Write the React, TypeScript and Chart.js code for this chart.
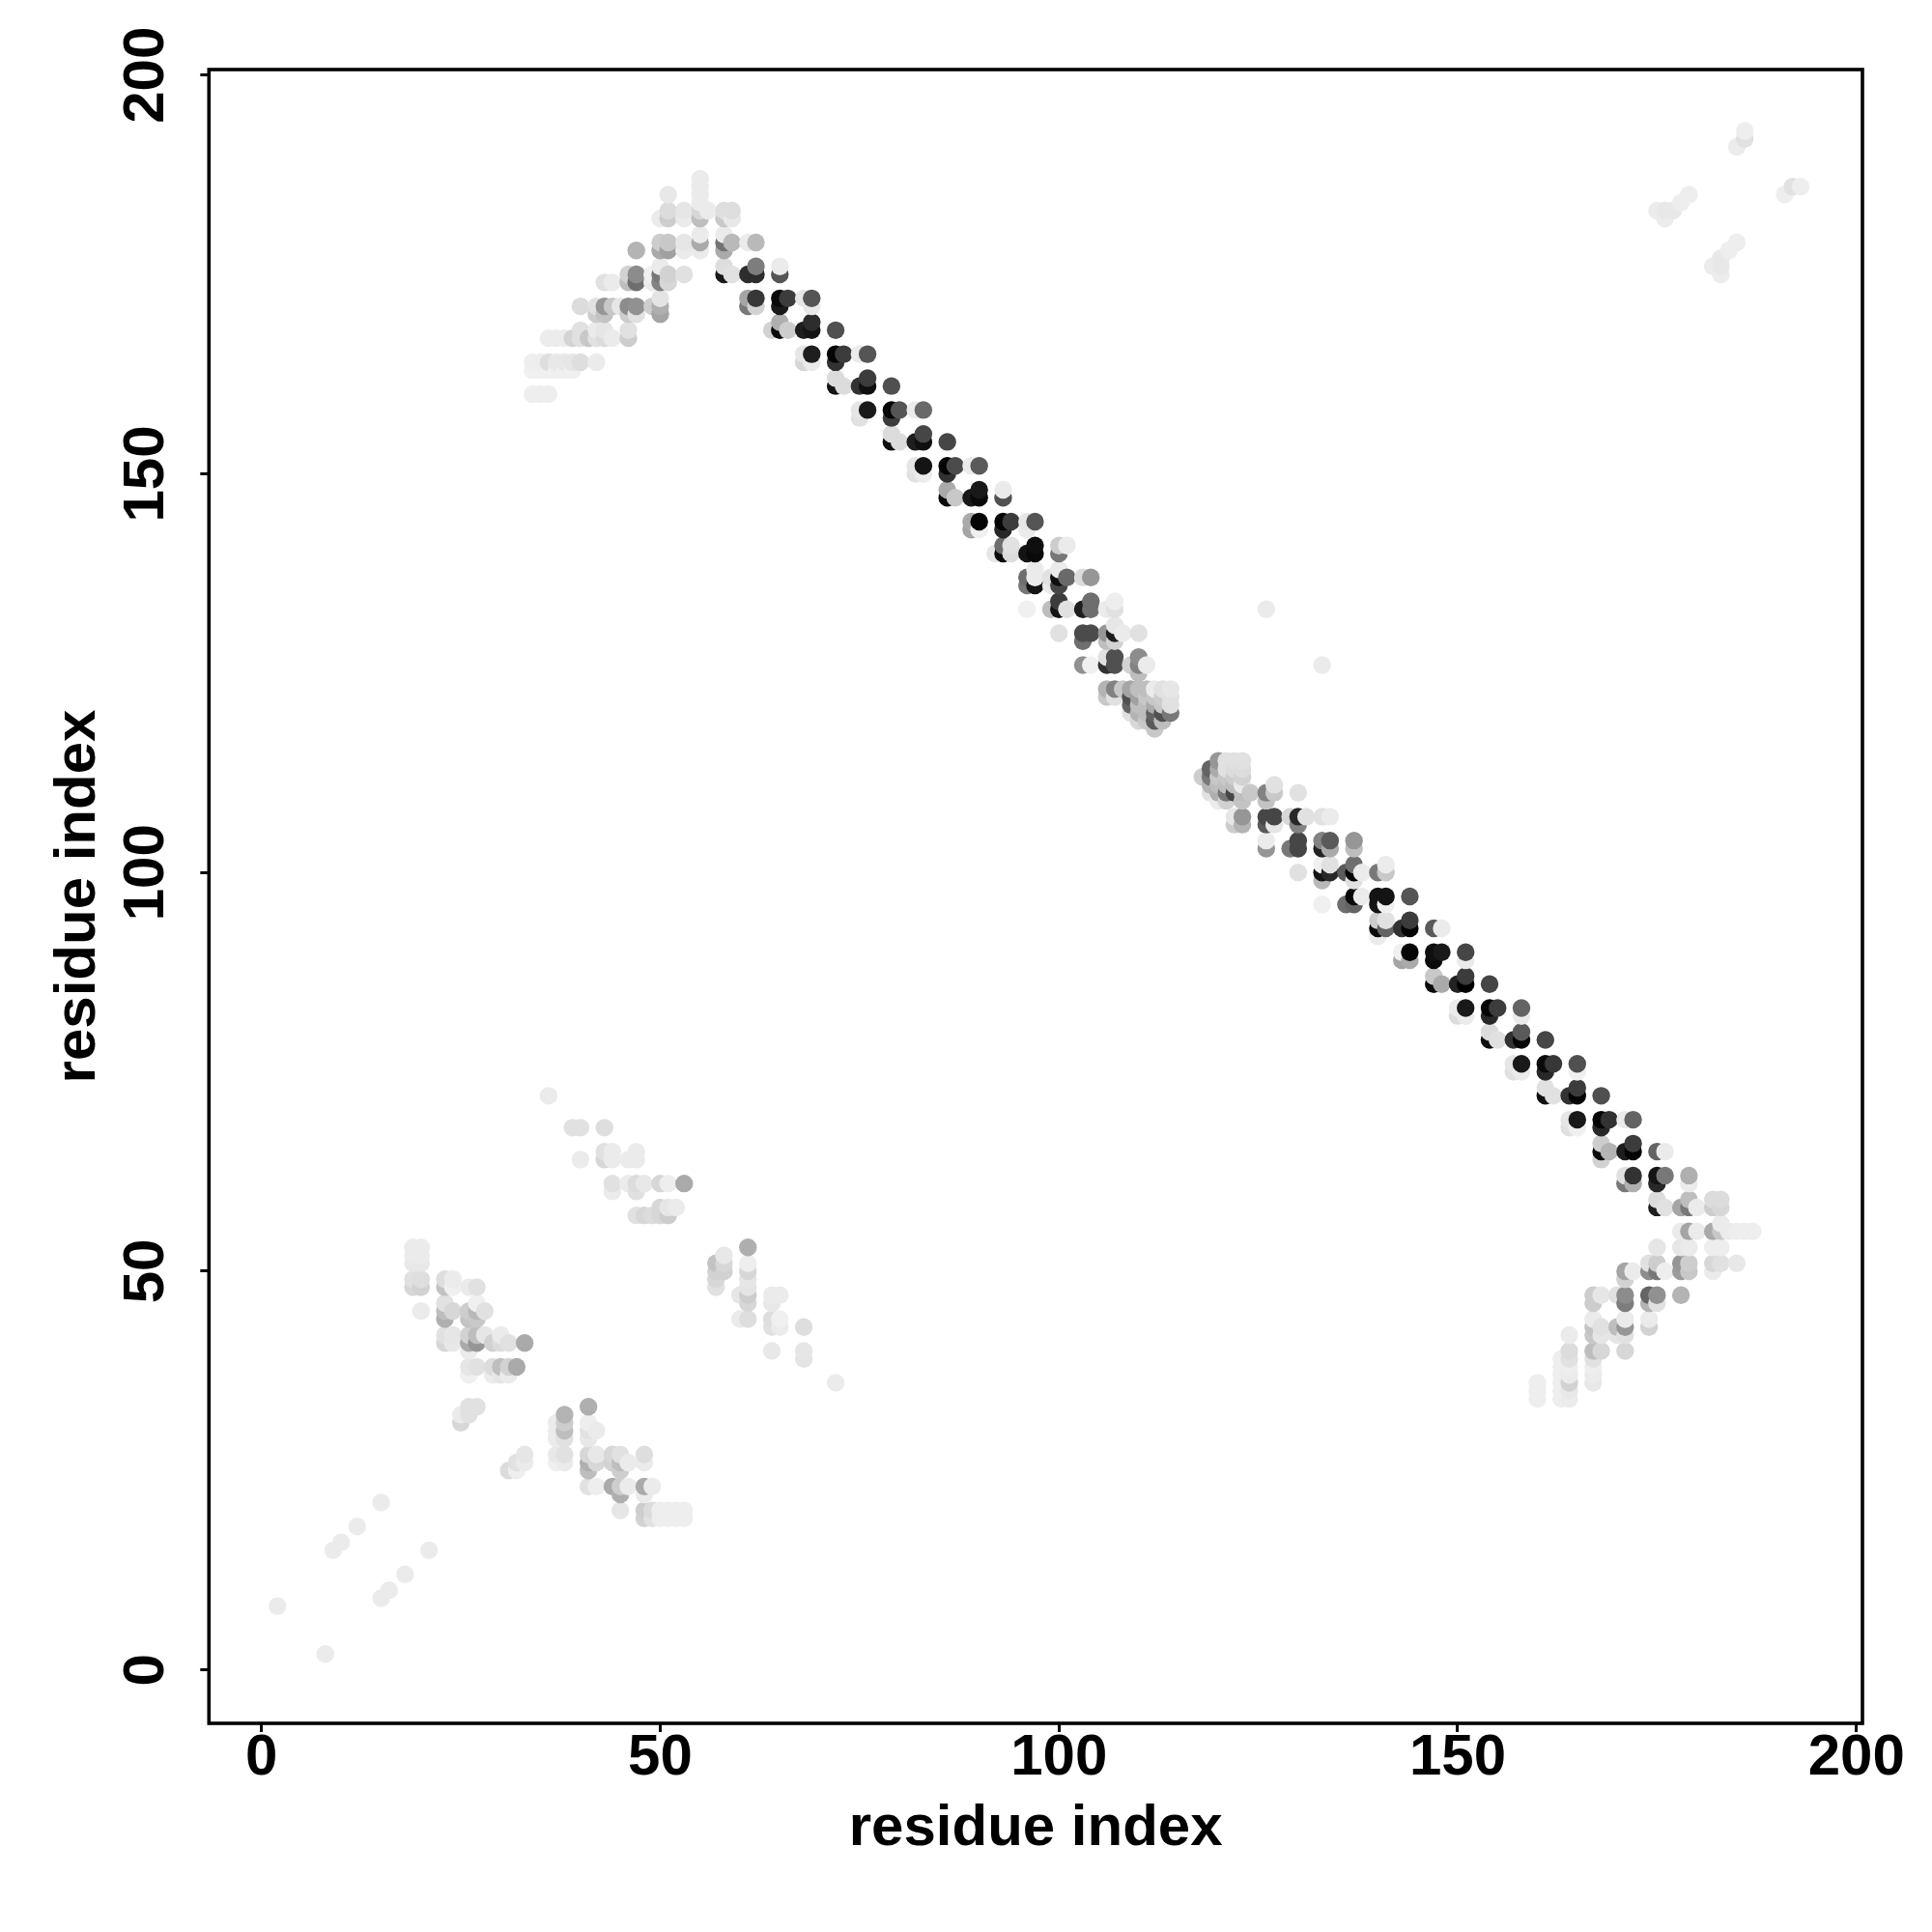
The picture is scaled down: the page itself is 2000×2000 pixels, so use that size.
import React, { useEffect, useRef } from "react";
import { Chart, registerables } from "chart.js";

Chart.register(...registerables);

type Contact = [number, number, number];

const axisTitle = "residue index";
const tickValues = [0, 50, 100, 150, 200];

// each entry: residue i, residue j, grey level of the mark
const upperLeftArm: Contact[] = [
  [34,160,238],[35,160,238],[36,160,238],
  [34,163,240],[35,163,240],[36,163,240],[37,163,240],[38,163,240],[39,163,240],
  [34,164,238],[35,164,238],[36,164,222],[37,164,232],[38,164,232],[39,164,230],[40,164,222],[42,164,235],
  [36,167,236],[37,167,236],[38,167,236],[39,167,212],[40,167,225],[41,167,200],[42,167,225],[43,167,220],[44,167,235],[46,167,205],
  [40,168,225],[42,168,235],[43,168,230],[46,168,225],
  [42,170,205],[43,170,195],[46,170,205],[47,170,225],[50,170,165],
  [40,171,220],[42,171,225],[43,171,150],[44,171,200],[45,171,230],[46,171,140],[47,171,145],[49,171,205],[50,171,175],
  [50,172,228],
  [43,174,225],[44,174,235],[46,174,190],[47,174,110],[49,174,235],[50,174,130],[51,174,215],
  [46,175,210],[47,175,140],[49,175,240],[50,175,120],[51,175,210],[53,175,225],
  [50,176,235],
  [47,178,180],[50,178,170],[51,178,160],[53,178,235],[55,178,235],[58,178,170],
  [50,179,205],[51,179,200],[53,179,230],[55,179,170],[58,179,115],[59,179,185],[61,179,235],[62,179,185],
  [55,180,235],[58,180,235],
  [50,182,235],[51,182,205],[53,182,235],[55,182,190],[58,182,200],[59,182,232],
  [51,183,220],[53,183,230],[55,183,215],[56,183,235],[58,183,222],[59,183,222],
  [55,184,235],[51,185,232],[55,185,235],[55,186,235],[55,187,235],
];

const upperDiagonal: Contact[] = [
  [58,175,25],[59,175,225],[61,175,45],[62,175,45],[65,175,85],
  [58,176,222],[62,176,125],[65,176,235],
  [61,172,165],[62,172,55],[65,172,10],[66,172,60],[68,172,230],[69,172,85],
  [61,171,120],[62,171,210],[65,171,25],[69,171,232],
  [64,168,210],[65,168,10],[66,168,205],[68,168,30],[69,168,20],[72,168,80],
  [65,169,175],[69,169,45],
  [68,165,230],[69,165,30],[72,165,5],[73,165,60],[75,165,235],[76,165,85],
  [68,164,215],[69,164,235],[72,164,50],
  [72,162,220],[76,162,60],
  [72,161,20],[73,161,220],[75,161,50],[76,161,15],[79,161,80],
  [75,158,230],[76,158,25],[79,158,5],[80,158,85],[82,158,235],[83,158,105],
  [75,157,225],[79,157,60],
  [79,155,220],[83,155,70],
  [79,154,15],[80,154,220],[82,154,30],[83,154,15],[86,154,70],
  [82,151,230],[83,151,20],[86,151,5],[87,151,75],[89,151,235],[90,151,90],
  [82,150,225],[83,150,235],[86,150,50],
  [86,148,170],[90,148,25],[93,148,235],
  [86,147,10],[87,147,200],[89,147,25],[90,147,10],[93,147,80],
  [89,144,170],[90,144,5],[93,144,5],[94,144,60],[96,144,230],[97,144,85],
  [89,143,165],[90,143,240],[93,143,40],[96,143,235],
  [93,141,110],[94,141,225],[97,141,15],[100,141,205],[101,141,235],
  [92,140,230],[93,140,10],[94,140,220],[96,140,20],[97,140,10],[100,140,120],
  [97,138,235],[100,138,235],
  [96,137,110],[97,137,235],[99,137,225],[100,137,15],[101,137,105],[103,137,220],[104,137,150],
  [96,136,120],[97,136,20],[99,136,235],[100,136,70],
  [100,134,60],[104,134,110],[107,134,238],
  [96,133,240],[99,133,190],[100,133,20],[101,133,225],[103,133,30],[104,133,110],[106,133,235],[107,133,225],
  [107,131,230],
  [100,130,225],[103,130,75],[104,130,75],[106,130,150],[107,130,30],[108,130,235],[110,130,225],
  [103,129,110],[106,129,190],[107,129,210],
  [106,127,225],[107,127,80],[110,127,140],
  [103,126,145],[104,126,240],[106,126,50],[107,126,80],[109,126,210],[110,126,130],[111,126,235],
  [110,125,190],
  [106,123,180],[107,123,130],[108,123,200],[109,123,165],[110,123,190],[111,123,190],[112,123,235],[113,123,225],[114,123,230],
  [106,122,200],[107,122,225],[109,122,80],[110,122,160],[111,122,200],[112,122,200],[113,122,205],[114,122,225],
  [109,121,100],[110,121,190],[111,121,190],[112,121,170],[113,121,200],[114,121,225],
  [109,120,225],[110,120,180],[111,120,190],[112,120,100],[113,120,80],[114,120,120],
  [110,119,215],[111,119,200],[112,119,90],[113,119,190],
  [112,118,200],
];

const lowerDiagonal: Contact[] = [
  [120,114,150],[121,114,225],[122,114,225],[123,114,225],
  [119,113,100],[120,113,170],[121,113,225],[122,113,220],[123,113,220],
  [118,112,205],[119,112,120],[120,112,200],[121,112,200],[122,112,205],[123,112,210],
  [119,111,180],[120,111,190],[121,111,190],[122,111,190],[123,111,235],[127,111,225],
  [119,110,225],[120,110,175],[121,110,120],[122,110,70],[123,110,190],[124,110,200],[126,110,130],[127,110,200],[130,110,225],
  [120,109,235],[121,109,210],[123,109,195],[126,109,195],
  [122,107,230],[123,107,150],[126,107,70],[127,107,70],[129,107,215],[130,107,40],[131,107,225],[133,107,225],[134,107,235],
  [122,106,205],[123,106,180],[126,106,90],[127,106,230],[130,106,130],
  [126,104,235],[130,104,70],[133,104,130],[134,104,90],[137,104,150],
  [126,103,150],[129,103,120],[130,103,70],[133,103,35],[134,103,170],[137,103,190],
  [133,101,240],[134,101,225],[137,101,110],[141,101,235],
  [130,100,225],[133,100,20],[134,100,40],[136,100,90],[137,100,0],[138,100,235],[140,100,120],[141,100,200],
  [133,99,185],[137,99,225],
  [137,97,10],[138,97,235],[140,97,20],[141,97,20],[144,97,85],
  [133,96,240],[136,96,110],[137,96,100],[140,96,20],[141,96,240],
  [140,94,205],[141,94,225],[144,94,60],
  [140,93,10],[141,93,100],[143,93,50],[144,93,5],[147,93,90],[148,93,235],
  [140,92,235],
  [143,90,240],[144,90,5],[147,90,15],[148,90,25],[151,90,70],
  [143,89,165],[144,89,170],[147,89,10],[151,89,235],
  [147,87,200],[151,87,60],
  [147,86,10],[148,86,170],[150,86,35],[151,86,0],[154,86,70],
  [150,83,235],[151,83,25],[154,83,5],[155,83,60],[158,83,100],
  [150,82,220],[151,82,235],[154,82,40],[158,82,235],
  [154,80,220],[158,80,90],
  [154,79,15],[155,79,225],[157,79,50],[158,79,5],[161,79,70],
  [157,76,230],[158,76,25],[161,76,10],[162,76,55],[165,76,80],
  [157,75,225],[158,75,235],[161,75,40],[165,75,240],
  [161,73,225],[165,73,60],
  [161,72,15],[162,72,225],[164,72,50],[165,72,5],[168,72,80],
  [164,69,230],[165,69,25],[168,69,5],[169,69,50],[171,69,235],[172,69,100],
  [164,68,225],[165,68,240],[168,68,40],
  [168,66,205],[172,66,60],
  [168,65,10],[169,65,180],[171,65,30],[172,65,5],[175,65,100],[176,65,235],
  [168,64,210],
  [171,62,225],[172,62,50],[175,62,20],[176,62,120],[179,62,175],
  [171,61,120],[172,61,175],[175,61,40],[179,61,235],
];

const lowerRightArm: Contact[] = [
  [175,59,220],[179,59,190],[182,59,220],[183,59,220],
  [175,58,30],[176,58,225],[178,58,165],[179,58,120],[180,58,235],[182,58,205],[183,58,215],
  [183,56,235],
  [178,55,235],[179,55,165],[180,55,235],[182,55,170],[183,55,200],[184,55,235],[185,55,238],[186,55,238],[187,55,238],
  [175,53,230],[178,53,230],[179,53,235],[182,53,238],[183,53,238],
  [174,51,225],[175,51,205],[178,51,150],[179,51,205],[182,51,215],[183,51,225],[185,51,232],
  [171,50,165],[172,50,235],[174,50,140],[175,50,120],[176,50,238],[178,50,155],[179,50,200],[182,50,235],
  [171,49,210],
  [167,47,205],[168,47,230],[170,47,225],[171,47,140],[174,47,100],[175,47,145],[178,47,180],
  [167,46,205],[171,46,125],[174,46,180],[175,46,225],
  [167,44,235],[171,44,235],[174,44,235],
  [167,43,195],[168,43,225],[170,43,190],[171,43,150],[174,43,210],
  [164,42,235],[167,42,200],[168,42,230],[170,42,230],[171,42,225],
  [164,40,220],[167,40,190],[168,40,215],[171,40,215],
  [163,39,238],[164,39,225],[167,39,225],
  [163,38,238],[164,38,238],[167,38,238],
  [163,37,238],[164,37,235],[167,37,235],
  [160,36,238],[163,36,238],[164,36,210],[167,36,232],
  [160,35,238],[163,35,238],[164,35,232],
  [160,34,238],[163,34,238],[164,34,236],
];

const lowerLeftBlocks: Contact[] = [
  [36,72,235],
  [39,68,225],[40,68,225],[43,68,222],
  [43,65,225],[44,65,235],[47,65,235],
  [40,64,235],[43,64,215],[44,64,235],[46,64,235],[47,64,235],
  [44,61,225],[46,61,235],[47,61,220],[48,61,232],[50,61,215],[51,61,238],[53,61,170],
  [44,60,235],[47,60,225],
  [50,58,215],[51,58,230],[52,58,235],
  [47,57,225],[48,57,215],[49,57,220],[50,57,215],[51,57,205],
  [19,53,235],[20,53,235],[61,53,175],
  [19,52,235],[20,52,235],[58,52,232],
  [19,51,232],[20,51,232],[57,51,195],[58,51,215],[61,51,238],
  [57,50,210],[58,50,210],[61,50,215],
  [19,49,225],[20,49,222],[23,49,222],[24,49,235],[57,49,215],[61,49,230],
  [19,48,215],[20,48,210],[23,48,195],[24,48,240],[26,48,235],[27,48,225],[57,48,225],[61,48,228],
  [60,47,230],[61,47,205],[64,47,235],[65,47,235],
  [23,46,225],[27,46,240],[61,46,215],[64,46,232],
  [20,45,235],[23,45,190],[24,45,215],[26,45,205],[27,45,185],[28,45,225],
  [23,44,175],[26,44,195],[27,44,200],[60,44,235],[61,44,222],[64,44,222],[65,44,240],
  [64,43,225],[65,43,235],[68,43,222],
  [23,42,225],[24,42,230],[26,42,210],[27,42,190],[28,42,230],[30,42,235],
  [23,41,215],[24,41,232],[26,41,170],[27,41,150],[29,41,210],[30,41,220],[31,41,225],[33,41,170],
  [26,40,235],[64,40,232],[68,40,230],
  [68,39,228],
  [26,38,230],[27,38,225],[29,38,220],[30,38,190],[31,38,210],[32,38,170],
  [26,37,240],[29,37,235],[30,37,230],[31,37,235],
  [72,36,235],
  [26,33,225],[27,33,225],[41,33,175],
  [25,32,235],[26,32,225],[38,32,180],
  [25,31,215],[37,31,235],[38,31,205],[41,31,238],
  [37,30,235],[38,30,190],[41,30,225],[42,30,235],
  [37,29,235],[38,29,225],[41,29,232],
  [33,27,230],[37,27,232],[38,27,225],[41,27,215],[42,27,232],[44,27,215],[45,27,225],[48,27,222],
  [32,26,225],[33,26,235],[37,26,240],[38,26,235],[41,26,175],[42,26,215],[44,26,210],[45,26,190],[46,26,235],[48,26,235],
  [31,25,220],[32,25,238],[41,25,190],[45,25,205],
  [41,23,225],[42,23,238],[44,23,170],[45,23,205],[46,23,235],[48,23,170],[49,23,235],
  [45,22,175],[48,22,235],
  [45,20,230],[48,20,205],[49,20,220],[50,20,238],[51,20,238],[52,20,238],[53,20,238],
  [48,19,210],[49,19,225],[50,19,238],[51,19,238],[52,19,238],[53,19,238],
];

const sparseContacts: Contact[] = [
  [2,8,235],[8,2,235],[9,15,235],[10,16,235],[12,18,235],[15,21,235],[21,15,235],[18,12,235],[15,9,235],[16,10,235],
  [126,133,235],[133,126,235],
  [186,193,238],[186,192,225],[185,191,236],
  [179,185,238],[178,184,238],[175,183,236],[176,183,232],[177,183,232],[176,182,236],
  [185,179,238],[184,178,238],[183,177,232],[182,176,236],[183,176,232],[183,175,236],
  [191,185,238],[192,186,225],[193,186,238],
];

const contacts = [
  ...upperLeftArm,
  ...upperDiagonal,
  ...lowerDiagonal,
  ...lowerRightArm,
  ...lowerLeftBlocks,
  ...sparseContacts,
].sort((a, b) => a[0] - b[0] || a[1] - b[1]);

const FONT = "'Liberation Sans', Arial, sans-serif";

export default function App() {
  const ref = useRef<HTMLCanvasElement>(null);

  useEffect(() => {
    const canvas = ref.current;
    if (!canvas) return;

    const frame = {
      id: "frame",
      afterDatasetsDraw(chart: any) {
        const { left, right, top, bottom } = chart.chartArea;
        const ctx = chart.ctx;
        ctx.save();
        ctx.strokeStyle = "#000";
        ctx.lineWidth = 3.6;
        ctx.strokeRect(left, top, right - left, bottom - top);
        ctx.restore();
      },
    };

    const setTicks = (scale: any) => {
      scale.ticks = tickValues.map((value) => ({ value }));
    };

    const chart = new Chart(canvas, {
      type: "scatter",
      data: {
        datasets: [
          {
            data: contacts.map(([x, y]) => ({ x, y })),
            pointBackgroundColor: contacts.map(([, , g]) => `rgb(${g},${g},${g})`),
            pointBorderWidth: 0,
            pointRadius: 9.2,
            pointHoverRadius: 9.2,
            clip: false,
          },
        ],
      },
      options: {
        responsive: false,
        animation: false,
        events: [],
        layout: { autoPadding: false, padding: { left: 0, right: 72, top: 72, bottom: 0 } },
        plugins: { legend: { display: false }, tooltip: { enabled: false } },
        scales: {
          x: {
            type: "linear",
            min: -6.59,
            max: 200.76,
            afterFit: (s: any) => { s.height = 216; },
            afterBuildTicks: setTicks,
            border: { display: false },
            grid: { drawOnChartArea: false, drawTicks: true, tickLength: 9, tickWidth: 3, tickColor: "#000" },
            ticks: {
              color: "#000",
              font: { family: FONT, weight: "bold", size: 60 },
              padding: -8.5,
              maxRotation: 0,
              minRotation: 0,
              autoSkip: false,
              callback: (v: any) => String(v),
            },
            title: {
              display: true,
              text: axisTitle,
              color: "#000",
              font: { family: FONT, weight: "bold", size: 60 },
              padding: { top: 0, bottom: 70.5 },
            },
          },
          y: {
            type: "linear",
            min: -6.7,
            max: 200.69,
            afterFit: (s: any) => { s.width = 216.3; },
            afterBuildTicks: setTicks,
            border: { display: false },
            grid: { drawOnChartArea: false, drawTicks: true, tickLength: 9, tickWidth: 3, tickColor: "#000" },
            ticks: {
              color: "#000",
              font: { family: FONT, weight: "bold", size: 60 },
              padding: 4.3,
              minRotation: 90,
              maxRotation: 90,
              crossAlign: "center",
              autoSkip: false,
              callback: (v: any) => String(v),
            },
            title: {
              display: true,
              text: axisTitle,
              color: "#000",
              font: { family: FONT, weight: "bold", size: 60 },
              padding: { top: 45, bottom: 0 },
            },
          },
        },
      },
      plugins: [frame],
    } as any);

    return () => chart.destroy();
  }, []);

  return (
    <div style={{ position: "absolute", left: 0, top: 0, width: 2000, height: 2000, background: "#fff" }}>
      <canvas ref={ref} width={2000} height={2000} style={{ display: "block" }} />
    </div>
  );
}
